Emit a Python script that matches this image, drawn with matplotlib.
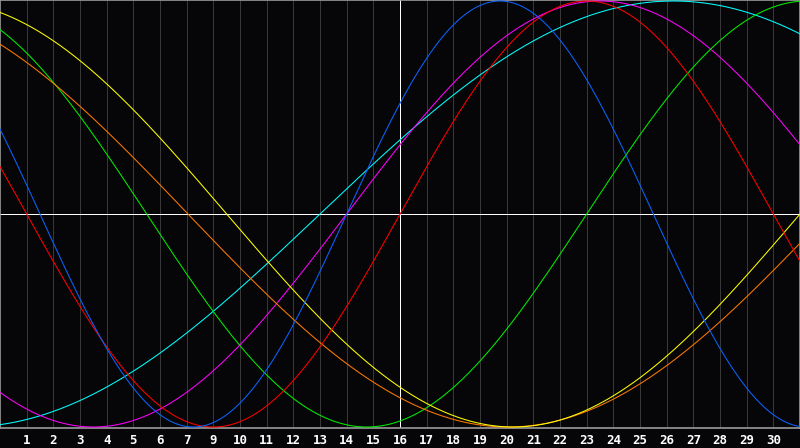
import matplotlib
matplotlib.use("Agg")
import matplotlib.pyplot as plt
import numpy as np

# biorhythm cycles: period in days and the day the curve crosses zero going up
cycles = ["physical", "emotional", "intellectual", "intuitive",
          "aesthetic", "awareness", "spiritual"]
periods = [23, 28, 33, 38, 43, 48, 53]
up_cross = [13.0, 15.0, 22.0, 13.0, 30.0, 31.05, 12.0]
colors = ["#0a64ff", "#ff0000", "#00ee00", "#ff00ff",
          "#ffff00", "#ff7a00", "#00ffff"]

# day labels under the grid lines (8 is missing on the original)
day_labels = ["1", "2", "3", "4", "5", "6", "7"] + [str(d) for d in range(9, 31)]
n_days = 30

fig = plt.figure(figsize=(8, 4.48), dpi=100, facecolor="#060608")
ax = fig.add_axes([0, 20 / 448, 1, 428 / 448])
ax.set_facecolor("#060608")

# vertical day grid
for d in range(1, n_days):
    ax.axvline(d, color="#383838", lw=0.6, zorder=1, antialiased=False)

t = np.linspace(0, n_days, 1601)
order = [6, 3, 2, 5, 4, 1, 0]
for i in order:
    v = np.sin(2 * np.pi * (t - up_cross[i]) / periods[i])
    ax.plot(t, v, color=colors[i], lw=0.75, zorder=3, label=cycles[i])

# white cross through the middle
ax.axhline(0, color="white", lw=0.6, zorder=2, antialiased=False)
ax.axvline(15, color="white", lw=0.6, zorder=2, antialiased=False)

lim = 214 / 213
ax.set_xlim(0, n_days)
ax.set_ylim(-lim, lim)

for s in ax.spines.values():
    s.set_color("#9a9a9a")
    s.set_linewidth(1.2)

ax.set_yticks([])
ax.set_xticks(range(1, n_days), day_labels)
ax.tick_params(axis="x", length=0, pad=4, colors="white")
for lab in ax.get_xticklabels():
    lab.set_fontfamily("DejaVu Sans Mono")
    lab.set_fontweight("bold")
    lab.set_fontsize(9)

fig.savefig("out.png", dpi=100, facecolor=fig.get_facecolor())
